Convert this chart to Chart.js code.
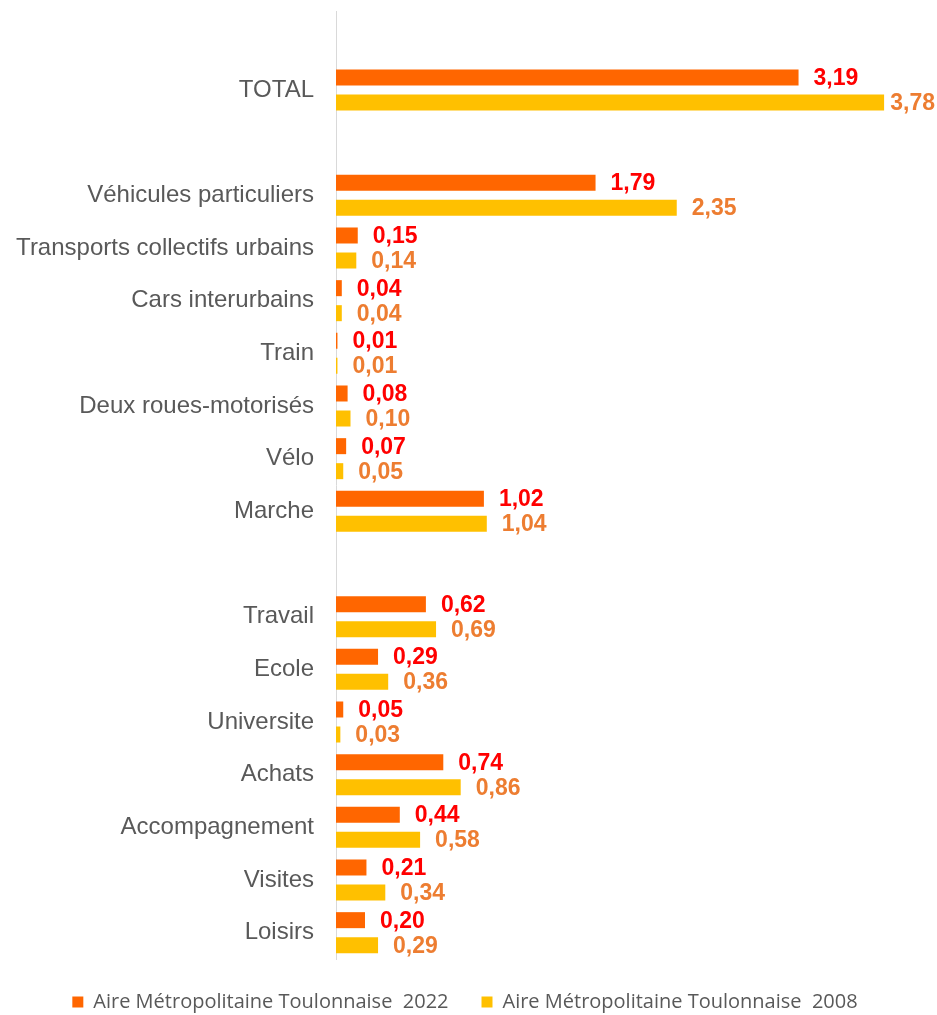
<!DOCTYPE html>
<html lang="fr">
<head>
  <meta charset="UTF-8">
  <title>Mobilité - Aire Métropolitaine Toulonnaise</title>
  <script src="https://cdn.jsdelivr.net/npm/chart.js"></script>
  <style>
    html, body { margin: 0; padding: 0; background: #fff; overflow: hidden; }
    /* slightly taller than the window so the legend sits low */
    #wrap { width: 937px; height: 1022px; }
  </style>
</head>
<body>
  <div id="wrap"><canvas id="barChart"></canvas></div>

  <script>
    // blank entries ("") are the spacer rows between groups
    const categories = ["", "TOTAL", "", "Véhicules particuliers", "Transports collectifs urbains",
      "Cars interurbains", "Train", "Deux roues-motorisés", "Vélo", "Marche", "",
      "Travail", "Ecole", "Universite", "Achats", "Accompagnement", "Visites", "Loisirs"];
    const values2022 = [null, 3.19, null, 1.79, 0.15, 0.04, 0.01, 0.08, 0.07, 1.02, null,
      0.62, 0.29, 0.05, 0.74, 0.44, 0.21, 0.20];
    const values2008 = [null, 3.78, null, 2.35, 0.14, 0.04, 0.01, 0.10, 0.05, 1.04, null,
      0.69, 0.36, 0.03, 0.86, 0.58, 0.34, 0.29];
    const seriesNames = ["Aire Métropolitaine Toulonnaise  2022", "Aire Métropolitaine Toulonnaise  2008"];

    const fmt = v => v.toFixed(2).replace(".", ",");

    // value labels drawn right of each bar (kept inside the canvas)
    const valueLabels = {
      id: "valueLabels",
      afterDatasetsDraw(chart) {
        const ctx = chart.ctx;
        const colors = ["#ff0000", "#ed7d31"];
        ctx.save();
        ctx.font = "bold 23px 'Liberation Sans', Arial, sans-serif";
        ctx.textBaseline = "middle";
        ctx.textAlign = "left";
        chart.data.datasets.forEach((ds, i) => {
          const meta = chart.getDatasetMeta(i);
          ctx.fillStyle = colors[i];
          meta.data.forEach((bar, j) => {
            if (ds.data[j] == null) return;
            const txt = fmt(ds.data[j]);
            const w = ctx.measureText(txt).width;
            const x = Math.min(bar.x + 15, chart.width - 2 - w);
            ctx.fillText(txt, x, bar.y + 1);
          });
        });
        ctx.restore();
      }
    };

    new Chart(document.getElementById("barChart"), {
      type: "bar",
      data: {
        labels: categories,
        datasets: [{
          label: seriesNames[0],
          data: values2022,
          backgroundColor: "#ff6600",
          categoryPercentage: 0.95,
          barPercentage: 0.64
        }, {
          label: seriesNames[1],
          data: values2008,
          backgroundColor: "#ffc000",
          categoryPercentage: 0.95,
          barPercentage: 0.64
        }]
      },
      options: {
        indexAxis: "y",
        responsive: true,
        maintainAspectRatio: false,
        animation: false,
        layout: { padding: { left: 14, top: 11, right: 21, bottom: 0 } },
        scales: {
          x: {
            min: 0,
            max: 4,
            display: false
          },
          y: {
            grid: { display: false, drawTicks: false },
            border: { display: true, color: "#d9d9d9", width: 1 },
            ticks: {
              color: "#595959",
              padding: 22,
              font: { family: "'Liberation Sans', Arial, sans-serif", size: 24 }
            },
            afterFit(scale) {
              scale.width = 322;
              scale.paddingTop = 0;
              scale.paddingBottom = 0;
            }
          }
        },
        plugins: {
          legend: {
            position: "bottom",
            labels: {
              color: "#595959",
              boxWidth: 11,
              boxHeight: 11,
              padding: 33,
              font: { family: "'Open Sans', sans-serif", size: 20 }
            }
          },
          tooltip: { enabled: false }
        }
      },
      plugins: [valueLabels]
    });
  </script>
</body>
</html>
